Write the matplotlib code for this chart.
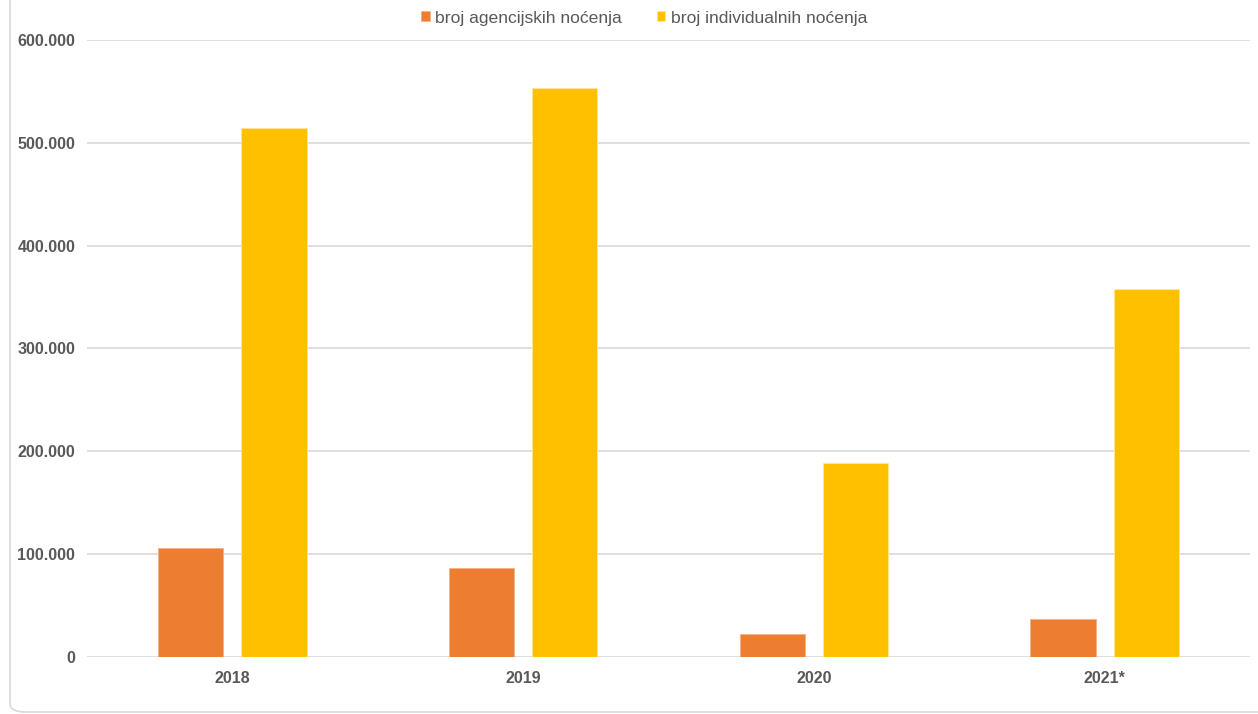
import matplotlib.pyplot as plt
import numpy as np
from matplotlib.patches import FancyBboxPatch
from matplotlib.ticker import FuncFormatter

plt.rcParams['font.family'] = ['Liberation Sans', 'DejaVu Sans']

years = ['2018', '2019', '2020', '2021*']
agencijska = [106000, 86500, 22400, 37000]
individualna = [514400, 553300, 188700, 357900]
labels = ['broj agencijskih noćenja', 'broj individualnih noćenja']

txt = '#595959'
grid = '#D9D9D9'

fig = plt.figure(figsize=(12.58, 7.14), dpi=100)
ax = fig.add_axes([87/1258, 1-657/714, (1250-87)/1258, (657-40)/714])

# chart frame, only left and bottom edges visible
frame = FancyBboxPatch((10/1258, 2/714), 1.1, 1.1, boxstyle='round,pad=0,rounding_size=0.012',
                       transform=fig.transFigure, fc='none', ec='#D9D9D9', lw=1.2, zorder=0)
fig.patches.append(frame)

x = np.arange(len(years))
w = 0.224
ax.bar(x - 0.143, agencijska, w, color='#ED7D31', edgecolor='#F4B183', lw=0.6, label=labels[0], zorder=3)
ax.bar(x + 0.143, individualna, w, color='#FFC000', edgecolor='#FFE699', lw=0.6, label=labels[1], zorder=3)

ax.set_xlim(-0.5, 3.5)
ax.set_ylim(0, 600000)
ax.set_yticks(np.arange(0, 600001, 100000))
ax.yaxis.set_major_formatter(FuncFormatter(lambda v, p: '0' if v == 0 else '{:,.0f}'.format(v).replace(',', '.')))
ax.set_xticks(x)
ax.set_xticklabels(years)
ax.grid(axis='y', color=grid, lw=1.2, zorder=0)
for s in ax.spines.values():
    s.set_visible(False)
ax.tick_params(length=0, labelsize=11.5, labelcolor=txt)
ax.tick_params(axis='y', pad=8.5)
ax.tick_params(axis='x', pad=10)
for t in ax.get_xticklabels() + ax.get_yticklabels():
    t.set_fontweight('bold')

fig.legend(loc='center', bbox_to_anchor=(644/1258, 1-18/714), ncol=2, frameon=False,
           handlelength=0.5, handleheight=0.5, handletextpad=0.3, columnspacing=2.0,
           prop={'size': 12.6}, labelcolor=txt)

fig.savefig('out.png', dpi=100)
